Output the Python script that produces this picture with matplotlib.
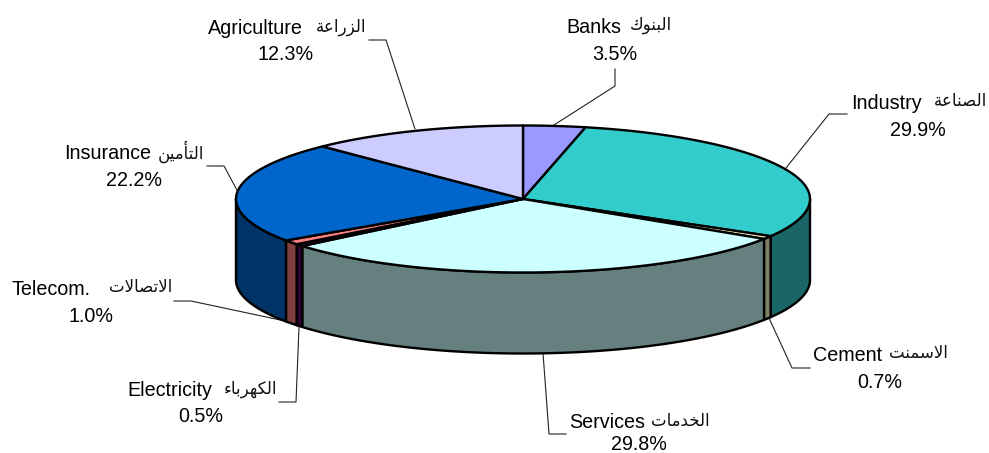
import numpy as np
import matplotlib
matplotlib.use('Agg')
import matplotlib.pyplot as plt

# data #

sectors = ['Banks', 'Industry', 'Cement', 'Services', 'Electricity',
           'Telecom.', 'Insurance', 'Agriculture']
sectors_ar = ['البنوك', 'الصناعة', 'الاسمنت', 'الخدمات', 'الكهرباء',
              'الاتصالات', 'التأمين', 'الزراعة']
shares = [3.5, 29.9, 0.7, 29.8, 0.5, 1.0, 22.2, 12.3]

top_colors = ['#9999FF', '#33CCCC', '#FFFFCC', '#CCFFFF', '#660066',
              '#FF8080', '#0066CC', '#CCCCFF']
side_colors = ['#4D4D80', '#1A6666', '#808066', '#668080', '#330033',
               '#804040', '#003366', '#666680']

# layout, in image pixels #

CX, CY, RX, RY, DEPTH = 523, 199, 287, 73.5, 81

# english left edge, arabic right edge, percent centre, first line y
text_pos = [(566, 672, 615, 26), (851, 987, 918, 102), (813, 948, 880, 354),
            (569, 710, 639, 421), (127, 277, 201, 389), (11, 172, 91, 288),
            (64, 204, 134, 152), (208, 366, 286, 27)]
leaders = [[(615, 69), (615, 86), (554, 125)],
           [(847, 114), (829, 114), (786, 168)],
           [(810, 368), (792, 368), (769, 318)],
           [(566, 434), (549, 434), (543, 353)],
           [(279, 402), (296, 402), (299, 327)],
           [(174, 301), (191, 301), (285, 321)],
           [(207, 166), (224, 166), (238, 192)],
           [(369, 40), (386, 40), (415, 129)]]

# arabic shaping, matplotlib does not join the letters itself #

FOUR = {'ب': 0xFE8F, 'ت': 0xFE95, 'خ': 0xFEA5, 'س': 0xFEB1, 'ص': 0xFEB9, 'ع': 0xFEC9,
        'ك': 0xFED9, 'ل': 0xFEDD, 'م': 0xFEE1, 'ن': 0xFEE5, 'ه': 0xFEE9, 'ي': 0xFEF1}
TWO = {'أ': 0xFE83, 'ا': 0xFE8D, 'ة': 0xFE93, 'د': 0xFEA9, 'ر': 0xFEAD, 'ز': 0xFEAF,
       'و': 0xFEED}


def shape(word):
    word = word.replace('لا', '\uFEFB')
    out = []
    for i, c in enumerate(word):
        prev_joins = i > 0 and word[i - 1] in FOUR
        next_joins = i < len(word) - 1 and c in FOUR and word[i + 1] not in 'ء'
        if c == '\uFEFB':
            out.append('\uFEFC' if prev_joins else c)
        elif c in TWO:
            out.append(chr(TWO[c] + (1 if prev_joins else 0)))
        elif c in FOUR:
            offset = {(False, False): 0, (True, False): 1,
                      (False, True): 2, (True, True): 3}[(prev_joins, next_joins)]
            out.append(chr(FOUR[c] + offset))
        else:
            out.append('\uFE80')
    return ''.join(reversed(out))


def rim(a, b, n=80, drop=0):
    t = np.radians(np.linspace(a, b, n))
    return CX + RX * np.sin(t), CY - RY * np.cos(t) + drop


# figure #

fig = plt.figure(figsize=(9.89, 4.53), dpi=100)
ax = fig.add_axes([0, 0, 1, 1])
ax.set_xlim(0, 989)
ax.set_ylim(453, 0)
ax.axis('off')

edges = 360 * np.cumsum([0] + shares) / sum(shares)

# side walls, only the front half can be seen
for i in range(len(shares)):
    a, b = max(edges[i], 90), min(edges[i + 1], 270)
    if a >= b:
        continue
    x1, y1 = rim(a, b)
    x2, y2 = rim(b, a, drop=DEPTH)
    ax.fill(np.r_[x1, x2], np.r_[y1, y2], facecolor=side_colors[i],
            edgecolor='black', lw=1.7, joinstyle='round', zorder=2)

# top face
for i in range(len(shares)):
    x, y = rim(edges[i], edges[i + 1])
    ax.fill(np.r_[CX, x], np.r_[CY, y], facecolor=top_colors[i],
            edgecolor='black', lw=1.7, joinstyle='round', zorder=3)

# leader lines
for pts in leaders:
    xs, ys = zip(*pts)
    ax.plot(xs, ys, color='#222222', lw=0.8, zorder=1)

# labels
for i in range(len(shares)):
    x_en, x_ar, x_pc, y = text_pos[i]
    ax.text(x_en, y + 1.5, sectors[i], family='Liberation Sans', fontsize=14.2,
            ha='left', va='center', color='black', zorder=4)
    ax.text(x_ar, y - 0.5, shape(sectors_ar[i]), family='DejaVu Sans', fontsize=12,
            ha='right', va='center', color='#111111', zorder=4)
    # keep the lowest percent inside the picture
    ax.text(x_pc, min(y + 28, 444.5), '%.1f%%' % shares[i], family='Liberation Sans',
            fontsize=14.2, ha='center', va='center', color='black', zorder=4)

fig.savefig('out.png', dpi=100)
